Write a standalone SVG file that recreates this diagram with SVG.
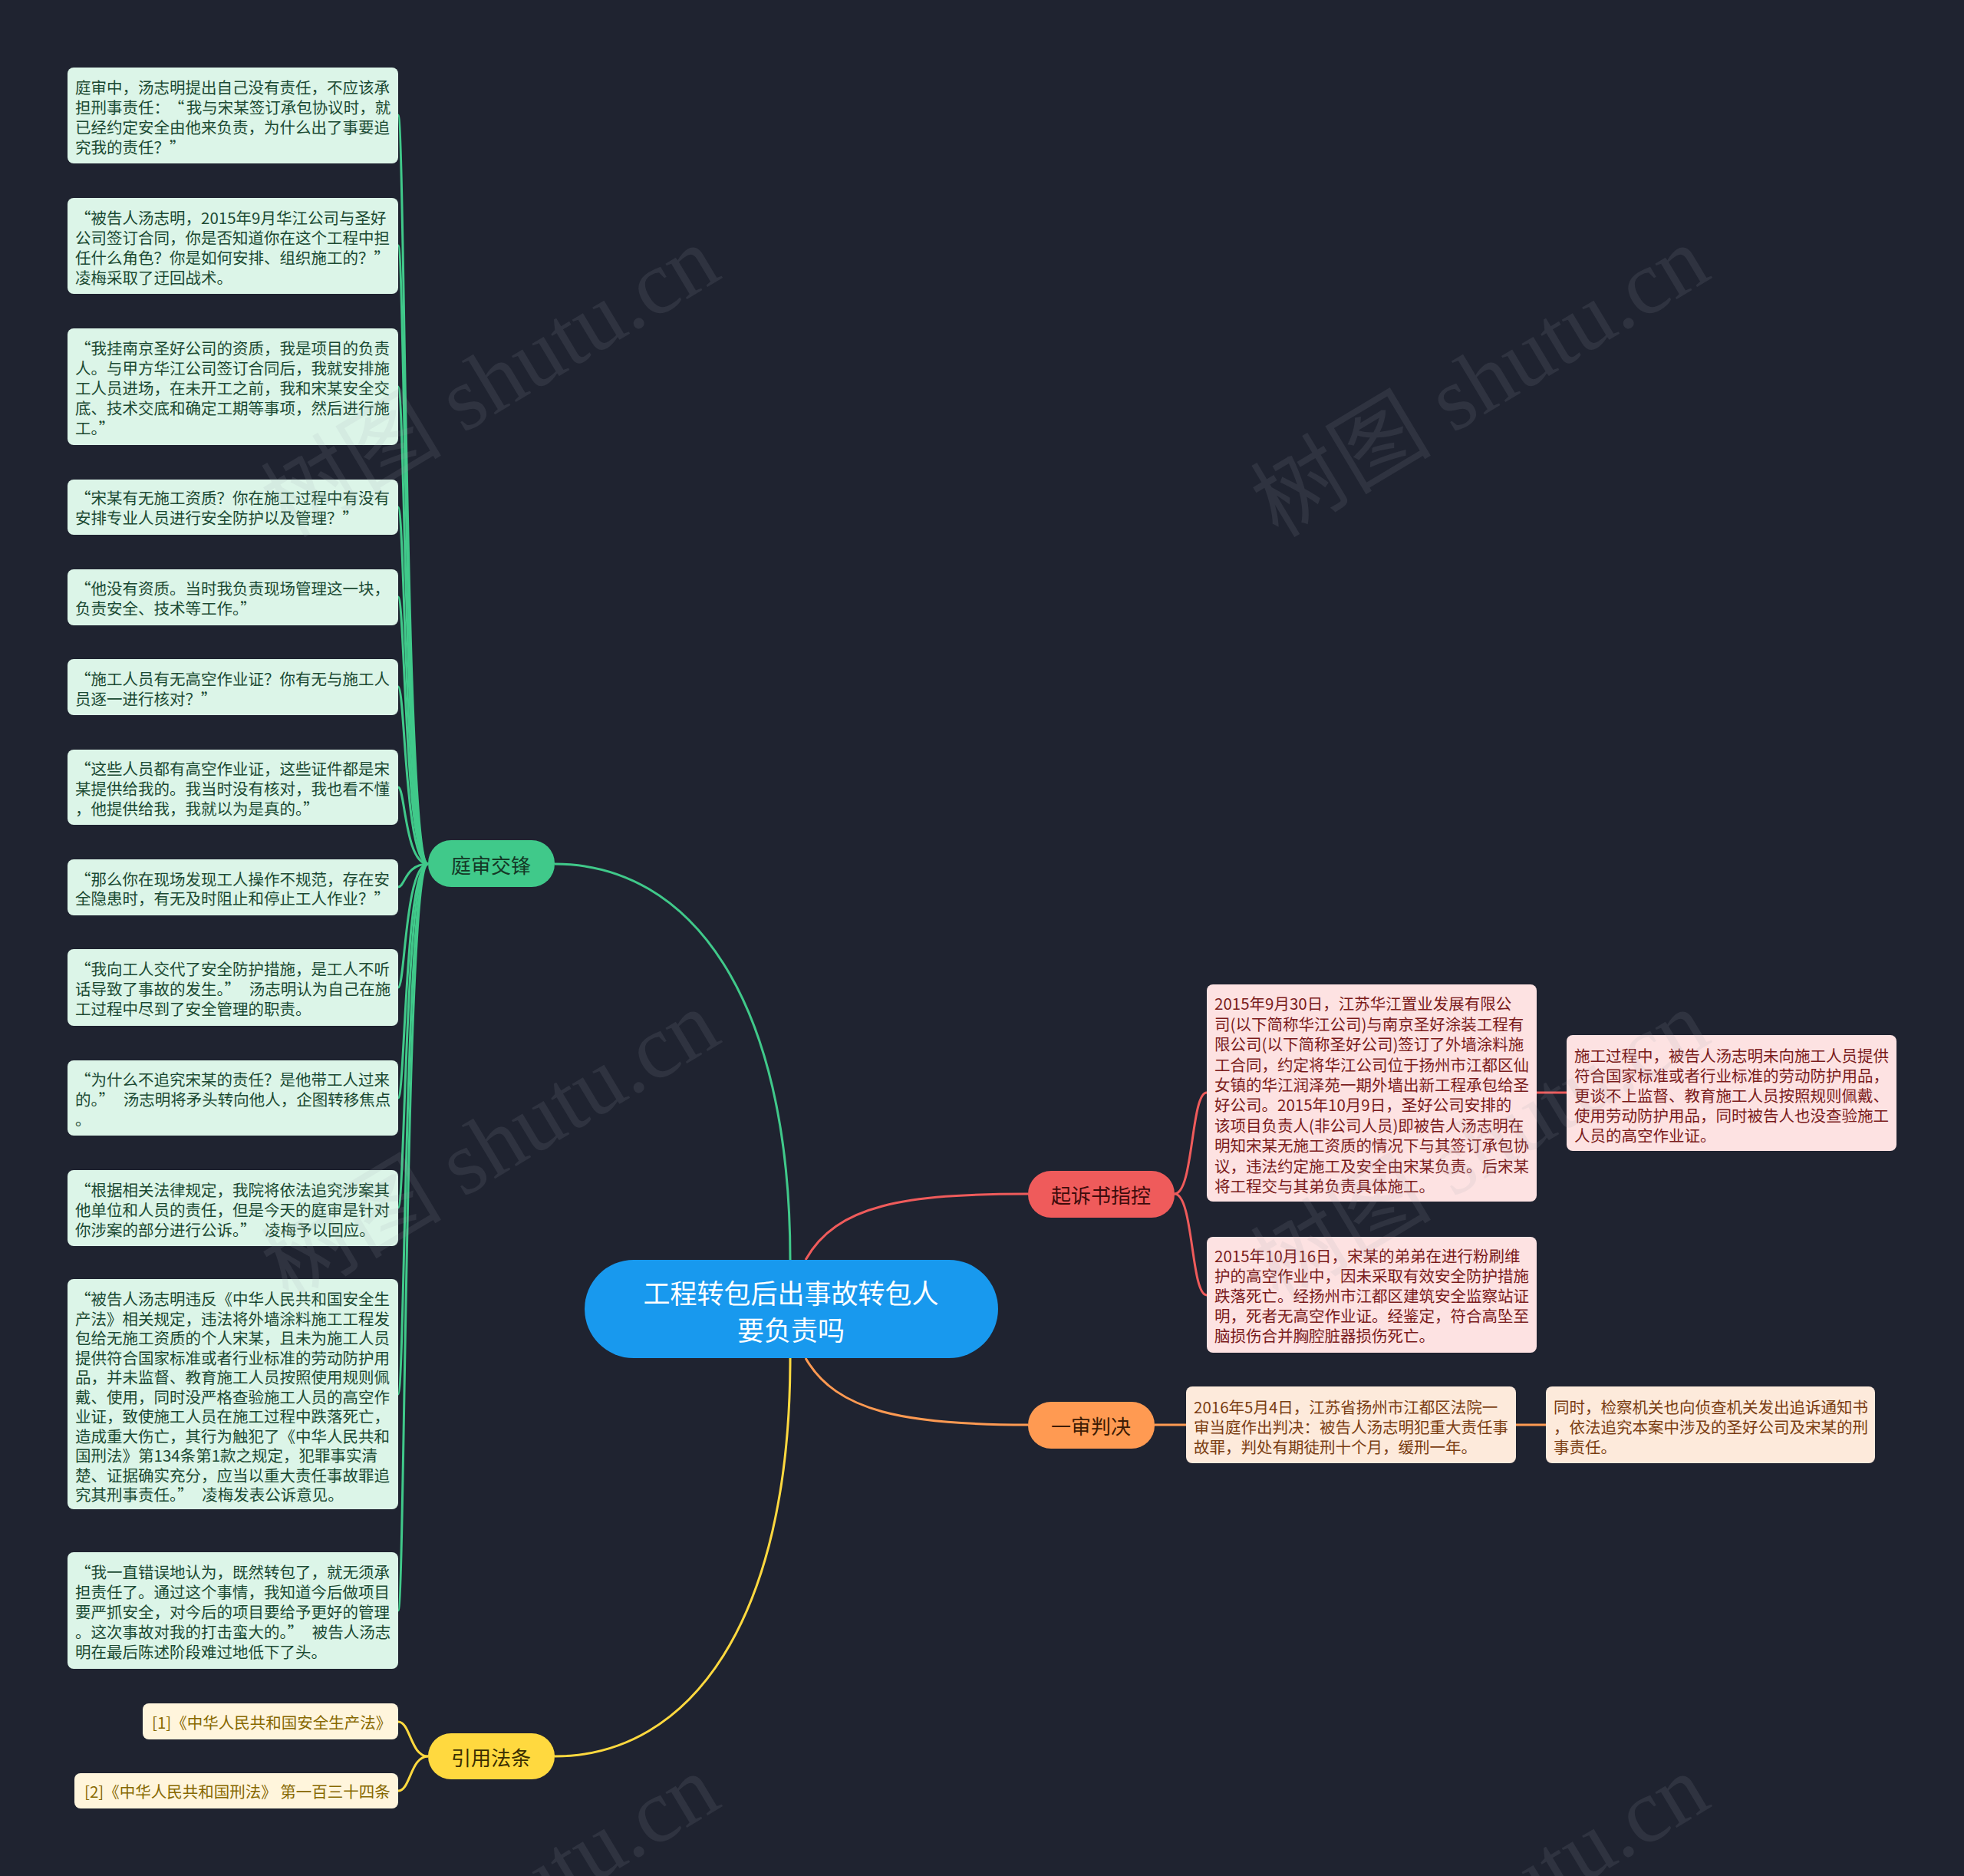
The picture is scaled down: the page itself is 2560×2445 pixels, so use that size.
<svg xmlns="http://www.w3.org/2000/svg" width="2560" height="2445" viewBox="0 0 2560 2445">
<style>
text{font-family:"Noto Sans CJK SC","Noto Sans",sans-serif;}
.leaf{font-size:20.5px;dominant-baseline:central;}
.g rect{fill:#dcf5e8;}
.g text{fill:#1b4a33;}
.r rect{fill:#fde2e2;}
.r text{fill:#7a1b1b;}
.o rect{fill:#fdeadb;}
.o text{fill:#7a3d12;}
.y rect{fill:#fff5dc;}
.y text{fill:#876800;}
.br text{font-size:26px;text-anchor:middle;dominant-baseline:central;}
.conn path{fill:none;stroke-width:3;}
.cg{stroke:#40c98a;}
.cr{stroke:#ef5b5b;}
.co{stroke:#ff9a52;}
.cy{stroke:#ffd93f;}
.wm{font-family:"Liberation Serif","Noto Sans CJK SC",serif;font-size:118px;fill:#a0a6b0;opacity:0.12;}
</style>
<rect width="2560" height="2445" fill="#1f2330"/>

<g id="connectors" class="conn">
  <path class="cg" d="M1030 1642 C1030 1300 900 1126 723 1126"/>
  <path class="cy" d="M1030 1770 C1030 2112 900 2289 723 2289"/>
  <path class="cr" d="M1050 1642 C1090 1570 1180 1556 1340 1556"/>
  <path class="co" d="M1050 1770 C1090 1840 1180 1857 1340 1857"/>
  <path class="cg" d="M558 1126 C528 1126 528 150 519 150"/>
  <path class="cg" d="M558 1126 C528 1126 528 320 519 320"/>
  <path class="cg" d="M558 1126 C528 1126 528 504 519 504"/>
  <path class="cg" d="M558 1126 C528 1126 528 661 519 661"/>
  <path class="cg" d="M558 1126 C528 1126 528 778 519 778"/>
  <path class="cg" d="M558 1126 C528 1126 528 895 519 895"/>
  <path class="cg" d="M558 1126 C528 1126 528 1026 519 1026"/>
  <path class="cg" d="M558 1126 C528 1126 528 1156 519 1156"/>
  <path class="cg" d="M558 1126 C528 1126 528 1287 519 1287"/>
  <path class="cg" d="M558 1126 C528 1126 528 1431 519 1431"/>
  <path class="cg" d="M558 1126 C528 1126 528 1574 519 1574"/>
  <path class="cg" d="M558 1126 C528 1126 528 1817 519 1817"/>
  <path class="cg" d="M558 1126 C528 1126 528 2099 519 2099"/>
  <path class="cy" d="M558 2289 C535 2289 535 2244 519 2244"/>
  <path class="cy" d="M558 2289 C535 2289 535 2334 519 2334"/>
  <path class="cr" d="M1531 1556 C1556 1556 1552 1424 1573 1424"/>
  <path class="cr" d="M1531 1556 C1556 1556 1552 1688 1573 1688"/>
  <path class="cr" d="M2003 1424 L2042 1424"/>
  <path class="co" d="M1505 1857 L1546 1857"/>
  <path class="co" d="M1976 1857 L2015 1857"/>
</g>

<g id="root">
  <rect x="762" y="1642" width="539" height="128" rx="64" fill="#1899ee"/>
  <text x="1031" y="1683" font-size="35" fill="#ffffff" text-anchor="middle" dominant-baseline="central">工程转包后出事故转包人</text>
  <text x="1031" y="1731" font-size="35" fill="#ffffff" text-anchor="middle" dominant-baseline="central">要负责吗</text>
</g>

<g id="b1" class="br">
  <rect x="558" y="1095" width="165" height="61" rx="30" fill="#40c98a"/>
  <text x="640" y="1126" fill="#143826">庭审交锋</text>
</g>
<g id="b2" class="br">
  <rect x="1340" y="1526" width="191" height="61" rx="30" fill="#ef5b5b"/>
  <text x="1435" y="1556" fill="#3d0b0b">起诉书指控</text>
</g>
<g id="b3" class="br">
  <rect x="1340" y="1827" width="165" height="61" rx="30" fill="#ff9a52"/>
  <text x="1422" y="1857" fill="#3d1c05">一审判决</text>
</g>
<g id="b4" class="br">
  <rect x="558" y="2259" width="165" height="60" rx="30" fill="#ffd93f"/>
  <text x="640" y="2289" fill="#3a2e00">引用法条</text>
</g>

<g id="g1" class="g leaf">
  <rect x="88" y="88" width="431" height="125" rx="8"/>
  <text x="98" y="113">庭审中，汤志明提出自己没有责任，不应该承</text>
  <text x="98" y="139">担刑事责任：<tspan dx="9">“</tspan><tspan dx="2.4">我与宋某签订承包协议时，就</tspan></text>
  <text x="98" y="165">已经约定安全由他来负责，为什么出了事要追</text>
  <text x="98" y="191">究我的责任？”</text>
</g>
<g id="g2" class="g leaf">
  <rect x="88" y="258" width="431" height="125" rx="8"/>
  <text x="98" y="283">“被告人汤志明，2015年9月华江公司与圣好</text>
  <text x="98" y="309">公司签订合同，你是否知道你在这个工程中担</text>
  <text x="98" y="335">任什么角色？你是如何安排、组织施工的？”</text>
  <text x="98" y="361">凌梅采取了迂回战术。</text>
</g>
<g id="g3" class="g leaf">
  <rect x="88" y="428" width="431" height="152" rx="8"/>
  <text x="98" y="453">“我挂南京圣好公司的资质，我是项目的负责</text>
  <text x="98" y="479">人。与甲方华江公司签订合同后，我就安排施</text>
  <text x="98" y="505">工人员进场，在未开工之前，我和宋某安全交</text>
  <text x="98" y="531">底、技术交底和确定工期等事项，然后进行施</text>
  <text x="98" y="557">工。”</text>
</g>
<g id="g4" class="g leaf">
  <rect x="88" y="625" width="431" height="72" rx="8"/>
  <text x="98" y="648">“宋某有无施工资质？你在施工过程中有没有</text>
  <text x="98" y="674">安排专业人员进行安全防护以及管理？”</text>
</g>
<g id="g5" class="g leaf">
  <rect x="88" y="742" width="431" height="73" rx="8"/>
  <text x="98" y="766">“他没有资质。当时我负责现场管理这一块，</text>
  <text x="98" y="792">负责安全、技术等工作。”</text>
</g>
<g id="g6" class="g leaf">
  <rect x="88" y="859" width="431" height="73" rx="8"/>
  <text x="98" y="884">“施工人员有无高空作业证？你有无与施工人</text>
  <text x="98" y="910">员逐一进行核对？”</text>
</g>
<g id="g7" class="g leaf">
  <rect x="88" y="977" width="431" height="98" rx="8"/>
  <text x="98" y="1001">“这些人员都有高空作业证，这些证件都是宋</text>
  <text x="98" y="1027">某提供给我的。我当时没有核对，我也看不懂</text>
  <text x="98" y="1053">，他提供给我，我就以为是真的。”</text>
</g>
<g id="g8" class="g leaf">
  <rect x="88" y="1120" width="431" height="73" rx="8"/>
  <text x="98" y="1145">“那么你在现场发现工人操作不规范，存在安</text>
  <text x="98" y="1170">全隐患时，有无及时阻止和停止工人作业？”</text>
</g>
<g id="g9" class="g leaf">
  <rect x="88" y="1237" width="431" height="100" rx="8"/>
  <text x="98" y="1262">“我向工人交代了安全防护措施，是工人不听</text>
  <text x="98" y="1288">话导致了事故的发生。”<tspan dx="11.4">汤志明认为自己在施</tspan></text>
  <text x="98" y="1314">工过程中尽到了安全管理的职责。</text>
</g>
<g id="g10" class="g leaf">
  <rect x="88" y="1382" width="431" height="98" rx="8"/>
  <text x="98" y="1406">“为什么不追究宋某的责任？是他带工人过来</text>
  <text x="98" y="1432">的。”<tspan dx="11.4">汤志明将矛头转向他人，企图转移焦点</tspan></text>
  <text x="98" y="1458">。</text>
</g>
<g id="g11" class="g leaf">
  <rect x="88" y="1525" width="431" height="99" rx="8"/>
  <text x="98" y="1550">“根据相关法律规定，我院将依法追究涉案其</text>
  <text x="98" y="1576">他单位和人员的责任，但是今天的庭审是针对</text>
  <text x="98" y="1602">你涉案的部分进行公诉。”<tspan dx="11.4">凌梅予以回应。</tspan></text>
</g>
<g id="g12" class="g leaf">
  <rect x="88" y="1667" width="431" height="300" rx="8"/>
  <text x="98" y="1692">“被告人汤志明违反《中华人民共和国安全生</text>
  <text x="98" y="1717.5">产法》相关规定，违法将外墙涂料施工工程发</text>
  <text x="98" y="1743">包给无施工资质的个人宋某，且未为施工人员</text>
  <text x="98" y="1768.5">提供符合国家标准或者行业标准的劳动防护用</text>
  <text x="98" y="1794">品，并未监督、教育施工人员按照使用规则佩</text>
  <text x="98" y="1819.5">戴、使用，同时没严格查验施工人员的高空作</text>
  <text x="98" y="1845">业证，致使施工人员在施工过程中跌落死亡，</text>
  <text x="98" y="1870.5">造成重大伤亡，其行为触犯了《中华人民共和</text>
  <text x="98" y="1896">国刑法》第134条第1款之规定，犯罪事实清</text>
  <text x="98" y="1921.5">楚、证据确实充分，应当以重大责任事故罪追</text>
  <text x="98" y="1947">究其刑事责任。”<tspan dx="11.4">凌梅发表公诉意见。</tspan></text>
</g>
<g id="g13" class="g leaf">
  <rect x="88" y="2023" width="431" height="152" rx="8"/>
  <text x="98" y="2048">“我一直错误地认为，既然转包了，就无须承</text>
  <text x="98" y="2074">担责任了。通过这个事情，我知道今后做项目</text>
  <text x="98" y="2100">要严抓安全，对今后的项目要给予更好的管理</text>
  <text x="98" y="2126">。这次事故对我的打击蛮大的。”<tspan dx="11.4">被告人汤志</tspan></text>
  <text x="98" y="2152">明在最后陈述阶段难过地低下了头。</text>
</g>

<g id="y1" class="y leaf">
  <rect x="186" y="2220" width="333" height="47" rx="8"/>
  <text x="198" y="2244">[1]《中华人民共和国安全生产法》</text>
</g>
<g id="y2" class="y leaf">
  <rect x="97" y="2311" width="422" height="46" rx="8"/>
  <text x="110" y="2334">[2]《中华人民共和国刑法》 第一百三十四条</text>
</g>

<g id="r1" class="r leaf">
  <rect x="1573" y="1283" width="430" height="283" rx="8"/>
  <text x="1583" y="1307">2015年9月30日，江苏华江置业发展有限公</text>
  <text x="1583" y="1333.5">司(以下简称华江公司)与南京圣好涂装工程有</text>
  <text x="1583" y="1360">限公司(以下简称圣好公司)签订了外墙涂料施</text>
  <text x="1583" y="1386.5">工合同，约定将华江公司位于扬州市江都区仙</text>
  <text x="1583" y="1413">女镇的华江润泽苑一期外墙出新工程承包给圣</text>
  <text x="1583" y="1439">好公司。2015年10月9日，圣好公司安排的</text>
  <text x="1583" y="1465.5">该项目负责人(非公司人员)即被告人汤志明在</text>
  <text x="1583" y="1492">明知宋某无施工资质的情况下与其签订承包协</text>
  <text x="1583" y="1518.5">议，违法约定施工及安全由宋某负责。后宋某</text>
  <text x="1583" y="1545">将工程交与其弟负责具体施工。</text>
</g>
<g id="r2" class="r leaf">
  <rect x="1573" y="1612" width="430" height="151" rx="8"/>
  <text x="1583" y="1636">2015年10月16日，宋某的弟弟在进行粉刷维</text>
  <text x="1583" y="1662">护的高空作业中，因未采取有效安全防护措施</text>
  <text x="1583" y="1688">跌落死亡。经扬州市江都区建筑安全监察站证</text>
  <text x="1583" y="1714">明，死者无高空作业证。经鉴定，符合高坠至</text>
  <text x="1583" y="1740">脑损伤合并胸腔脏器损伤死亡。</text>
</g>
<g id="r3" class="r leaf">
  <rect x="2042" y="1349" width="430" height="151" rx="8"/>
  <text x="2052" y="1375">施工过程中，被告人汤志明未向施工人员提供</text>
  <text x="2052" y="1401">符合国家标准或者行业标准的劳动防护用品，</text>
  <text x="2052" y="1427">更谈不上监督、教育施工人员按照规则佩戴、</text>
  <text x="2052" y="1453">使用劳动防护用品，同时被告人也没查验施工</text>
  <text x="2052" y="1479">人员的高空作业证。</text>
</g>

<g id="o1" class="o leaf">
  <rect x="1546" y="1807" width="430" height="100" rx="8"/>
  <text x="1556" y="1833">2016年5月4日，江苏省扬州市江都区法院一</text>
  <text x="1556" y="1859">审当庭作出判决：被告人汤志明犯重大责任事</text>
  <text x="1556" y="1885">故罪，判处有期徒刑十个月，缓刑一年。</text>
</g>
<g id="o2" class="o leaf">
  <rect x="2015" y="1807" width="429" height="100" rx="8"/>
  <text x="2025" y="1833">同时，检察机关也向侦查机关发出追诉通知书</text>
  <text x="2025" y="1859">，依法追究本案中涉及的圣好公司及宋某的刑</text>
  <text x="2025" y="1885">事责任。</text>
</g>

<g id="watermark">
  <text class="wm" transform="translate(376 702) rotate(-31)">树图 shutu.cn</text>
  <text class="wm" transform="translate(1666 702) rotate(-31)">树图 shutu.cn</text>
  <text class="wm" transform="translate(376 1698) rotate(-31)">树图 shutu.cn</text>
  <text class="wm" transform="translate(1666 1698) rotate(-31)">树图 shutu.cn</text>
  <text class="wm" transform="translate(376 2694) rotate(-31)">树图 shutu.cn</text>
  <text class="wm" transform="translate(1666 2694) rotate(-31)">树图 shutu.cn</text>
</g>
</svg>
